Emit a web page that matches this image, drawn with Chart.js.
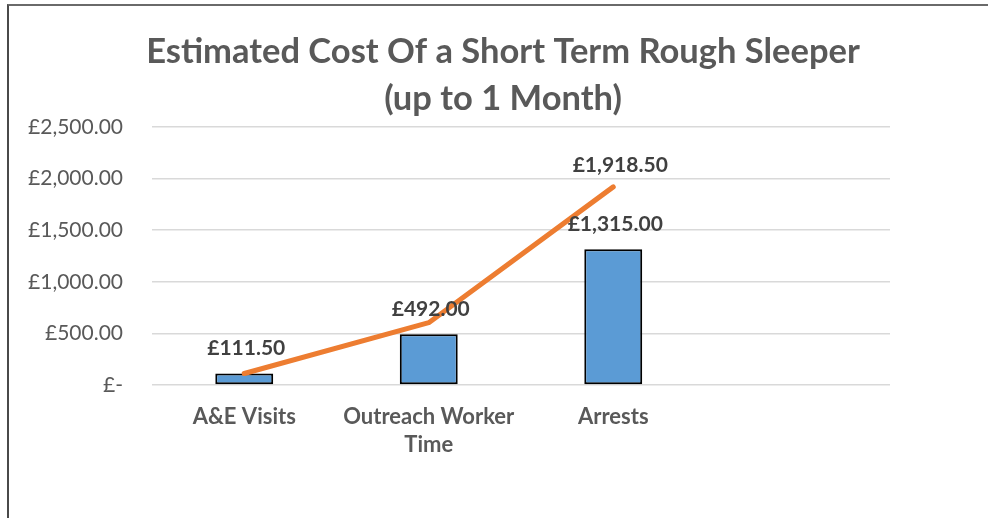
<!DOCTYPE html>
<html>
<head>
<meta charset="utf-8">
<script src="https://cdn.jsdelivr.net/npm/chart.js@4/dist/chart.umd.min.js"></script>
<style>
  html, body { margin: 0; padding: 0; background: #fff; }
  #wrap { position: relative; width: 988px; height: 518px; overflow: hidden; }
  #frame { position: absolute; left: 7px; top: 4px; width: 1000px; height: 600px;
           border-left: 2px solid #4a4a4a; border-top: 2px solid #6a6a6a; box-sizing: border-box; }
  canvas { position: absolute; left: 0; top: 0; }
</style>
</head>
<body>
<div id="wrap">
  <div id="frame"></div>
  <canvas id="c" width="988" height="518"></canvas>
</div>
<script>
const titleLines = ['Estimated Cost Of a Short Term Rough Sleeper', '(up to 1 Month)'];
const categories = ['A&E Visits', ['Outreach Worker', 'Time'], 'Arrests', ''];
const costValues = [111.5, 492, 1315, null];
const cumulativeValues = [111.5, 603.5, 1918.5, null];
const yTickLabels = ['£-', '£500.00', '£1,000.00', '£1,500.00', '£2,000.00', '£2,500.00'];
const barLabels = ['£111.50', '£492.00', '£1,315.00', ''];
const lineLabels = ['', '', '£1,918.50', ''];

const FONT = 'Lato, "Open Sans", sans-serif';

const labelPlugin = {
  id: 'valueLabels',
  afterLayout(chart) {
    // centre the title over the chart frame like the original
    const tb = chart.titleBlock;
    if (tb) {
      tb.left = 116;
      tb.right = 890;
      tb.width = tb.right - tb.left;
    }
  },
  afterDatasetsDraw(chart) {
    const ctx = chart.ctx;
    ctx.save();
    ctx.font = 'bold 21px ' + FONT;
    ctx.fillStyle = '#404040';
    ctx.textAlign = 'center';
    ctx.textBaseline = 'middle';
    const barMeta = chart.getDatasetMeta(0);
    barMeta.data.forEach((el, i) => {
      if (!barLabels[i]) return;
      ctx.fillText(barLabels[i], el.x + 2, el.y - 25);
    });
    const lineMeta = chart.getDatasetMeta(1);
    lineMeta.data.forEach((el, i) => {
      if (!lineLabels[i]) return;
      ctx.fillText(lineLabels[i], el.x + 7, el.y - 22);
    });
    ctx.restore();
  }
};

new Chart(document.getElementById('c'), {
  data: {
    labels: categories,
    datasets: [
      {
        type: 'bar',
        label: 'Cost',
        data: costValues,
        backgroundColor: '#5B9BD5',
        borderColor: '#000000',
        borderWidth: 2,
        borderSkipped: false,
        categoryPercentage: 1,
        barPercentage: 0.314,
        order: 2
      },
      {
        type: 'line',
        label: 'Cumulative',
        data: cumulativeValues,
        borderColor: '#ED7D31',
        borderWidth: 5,
        borderCapStyle: 'round',
        borderJoinStyle: 'round',
        pointRadius: 0,
        tension: 0,
        fill: false,
        order: 1
      }
    ]
  },
  options: {
    responsive: false,
    animation: false,
    devicePixelRatio: 1,
    layout: { padding: { top: 10, right: 98, left: 20, bottom: 0 } },
    plugins: {
      legend: { display: false },
      tooltip: { enabled: false },
      title: {
        display: true,
        text: titleLines,
        color: '#595959',
        font: { family: FONT, size: 34.5, weight: 'bold', lineHeight: 1.36 },
        padding: { top: 18.5, bottom: 4.5 }
      }
    },
    scales: {
      x: {
        grid: { display: false, drawTicks: false },
        border: { display: false },
        ticks: {
          color: '#595959',
          font: { family: FONT, size: 22, weight: 'bold', lineHeight: 1.27 },
          padding: 18,
          autoSkip: false,
          maxRotation: 0,
          minRotation: 0
        },
        afterFit(scale) { scale.height = 133; }
      },
      y: {
        min: 0,
        max: 2500,
        grid: { color: '#d9d9d9', lineWidth: 1.5, drawTicks: false },
        border: { display: false },
        ticks: {
          stepSize: 500,
          color: '#595959',
          font: { family: FONT, size: 21 },
          padding: 29,
          callback(value) { return yTickLabels[Math.round(value / 500)]; }
        },
        afterFit(scale) { scale.width = 132; }
      }
    }
  },
  plugins: [labelPlugin]
});
</script>
</body>
</html>
